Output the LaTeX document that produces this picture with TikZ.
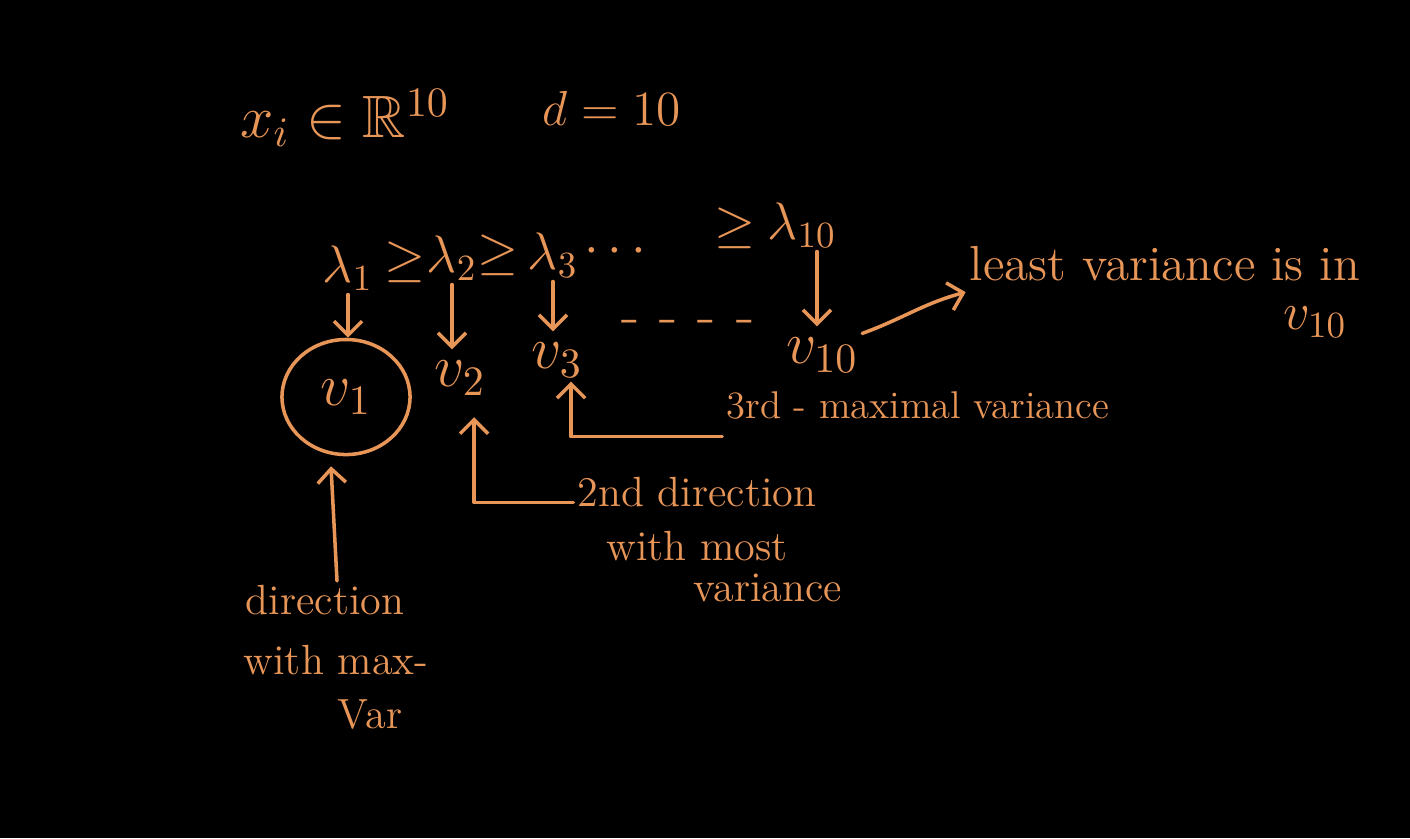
\documentclass[tikz,border=0pt]{standalone}
\usepackage{fix-cm}
\usepackage{amssymb}
\usetikzlibrary{arrows.meta,shapes.geometric,calc}
\definecolor{ink}{RGB}{232,150,88}
\begin{document}
\begin{tikzpicture}[x=0.01cm,y=-0.01cm,
  every node/.style={text=ink,inner sep=1pt},
  big/.style={font=\fontsize{17}{20}\selectfont},
  mid/.style={font=\fontsize{15}{18}\selectfont},
  txt/.style={font=\fontsize{12}{14}\selectfont},
  arr/.style={draw=ink,line width=1pt,line cap=round,line join=round,-{Straight Barb[length=4pt,width=8pt]}}]
\fill[black] (0,0) rectangle (1410,838);
\useasboundingbox (0,0) rectangle (1410,838);
% top line
\node[big] (xi) at (345,118) {$x_i\in\mathbb{R}^{10}$};
\node[font=\fontsize{14}{16}\selectfont] (d) at (612,108) {$d=10$};
% eigenvalues
\node[mid] (lam1) at (348,268) {$\lambda_1$};
\node[mid] (ge1) at (405,262) {$\geq$};
\node[mid] (lam2) at (452,258) {$\lambda_2$};
\node[mid] (ge2) at (498,255) {$\geq$};
\node[mid] (lam3) at (553,255) {$\lambda_3$};
\node[mid] (dots1) at (615,252) {$\cdots$};
\node[mid] (ge10) at (735,228) {$\geq$};
\node[mid] (lam10) at (802,225) {$\lambda_{10}$};
% eigenvectors
\node[big,draw=ink,line width=1pt,ellipse,minimum width=1.28cm,minimum height=1.15cm] (c1) at (346,397) {$v_1$};
\node[big] (v2) at (460,378) {$v_2$};
\node[big] (v3) at (557,360) {$v_3$};
\node[big] (dots2) at (688,327) {-\hspace{2mm}-\hspace{2mm}-\hspace{2mm}-};
\node[big] (v10) at (822,355) {$v_{10}$};
% annotations
\node[font=\fontsize{14}{16}\selectfont] (least) at (1165,264) {least variance is in};
\node[mid] (v10b) at (1315,322) {$v_{10}$};
\node[font=\fontsize{11}{13}\selectfont] (third) at (918,405) {3rd - maximal variance};
\node[txt] (sec1) at (697,492) {2nd direction};
\node[txt] (sec2) at (697,546) {with most};
\node[txt] (sec3) at (768,588) {variance};
\node[txt] (dir1) at (325,600) {direction};
\node[txt] (dir2) at (336,660) {with max-};
\node[txt] (dir3) at (370,715) {Var};
% arrows
\draw[arr] (lam1.south) -- (lam1.south |- c1.north);
\draw[arr] (lam2.south) -- ([yshift=2pt]lam2.south |- v2.north);
\draw[arr] (lam3.south) -- ([yshift=2pt]lam3.south |- v3.north);
\draw[arr] ([xshift=1.5mm]lam10.south) -- ([xshift=1.5mm,yshift=2pt]lam10.south |- v10.north);
\draw[arr] (v10.north east) to[out=20,in=195] ([yshift=-8pt]least.west);
\draw[arr] ([yshift=-9pt]third.west) -| ([xshift=4pt]v3.south);
\draw[arr] ([yshift=-3pt]sec1.west) -| ([xshift=4pt,yshift=-5pt]v2.south);
\draw[arr] ([xshift=1.2mm]dir1.north) -- ([xshift=-1.5mm,yshift=-1mm]c1.south);
\end{tikzpicture}
\end{document}
